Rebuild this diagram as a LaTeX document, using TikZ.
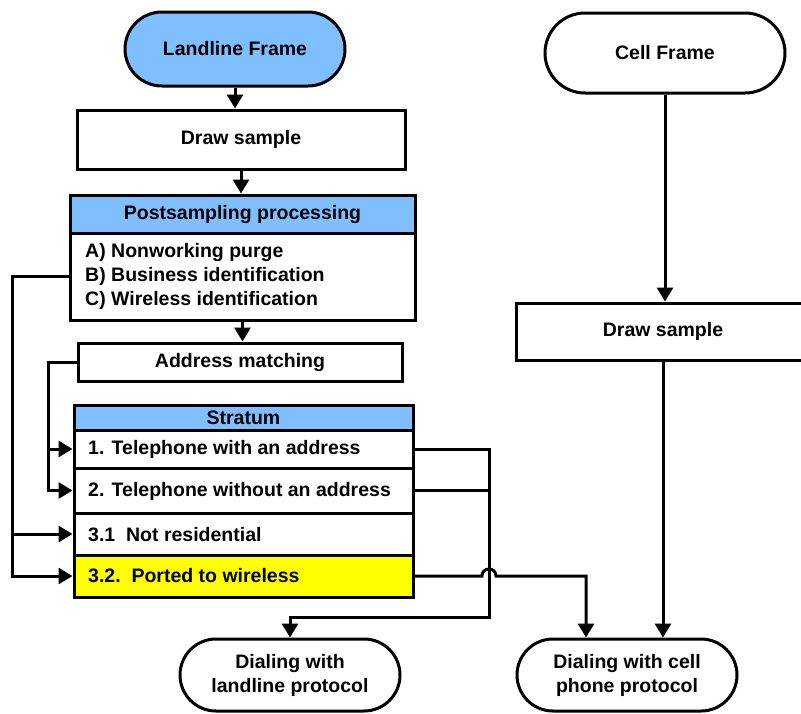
\documentclass[tikz,border=0pt]{standalone}
\usepackage{fontspec}
\setmainfont{Liberation Sans}
\usetikzlibrary{arrows.meta,shapes.misc}
\definecolor{lblue}{RGB}{128,191,255}
\definecolor{yel}{RGB}{255,255,0}
\begin{document}
\begin{tikzpicture}[x=1pt,y=-1pt,
  every node/.style={font=\fontsize{19.5}{24}\selectfont\bfseries, inner sep=0pt},
  box/.style={draw, line width=3pt, rectangle},
  term/.style={draw, line width=3pt, rounded rectangle, align=center},
  conn/.style={line width=3pt, -{Triangle[length=14pt,width=16pt]}},
  plain/.style={line width=3pt}]
\clip (0,0) rectangle (801,713);
\fill[white] (0,0) rectangle (801,713);
% left column
\node[term, fill=lblue, minimum width=220pt, minimum height=74pt] (lf) at (235,49) {Landline Frame};
\node[box, minimum width=328pt, minimum height=59pt] (ds1) at (241,139.5) {Draw sample};
\node[box, fill=lblue, minimum width=345pt, minimum height=38pt] (ph) at (242.5,214) {Postsampling processing};
\node[box, minimum width=345pt, minimum height=87pt] (pb) at (242.5,276.5) {};
\node[anchor=west, align=left] (pt) at (85,276) {A) Nonworking purge\\B) Business identification\\C) Wireless identification};
\node[box, minimum width=324pt, minimum height=38pt] (am) at (240,362) {Address matching};
\node[box, fill=lblue, minimum width=339pt, minimum height=25pt] (sh) at (243.5,417.5) {Stratum};
\node[box, minimum width=339pt, minimum height=38pt] (r1) at (243.5,449) {};
\node[box, minimum width=339pt, minimum height=45pt] (r2) at (243.5,490.5) {};
\node[box, minimum width=339pt, minimum height=42pt] (r3) at (243.5,534) {};
\node[box, fill=yel, minimum width=339pt, minimum height=42pt] (r4) at (243.5,576) {};
\node[anchor=west] (t1) at (88,449) {1. Telephone with an address};
\node[anchor=west] (t2) at (88,491) {2. Telephone without an address};
\node[anchor=west] (t3) at (88,535) {3.1\ \ Not residential};
\node[anchor=west] (t4) at (88,576) {3.2.\ \ Ported to wireless};
\node[term, minimum width=220pt, minimum height=72pt] (dl) at (290,675) {Dialing with\\landline protocol};
% right column
\node[term, minimum width=240pt, minimum height=80pt] (cf) at (665,53) {Cell Frame};
\node[box, minimum width=294pt, minimum height=57pt] (ds2) at (663,331.5) {Draw sample};
\node[term, minimum width=220pt, minimum height=72pt] (dc) at (627,675) {Dialing with cell\\phone protocol};
% helper coordinates
\coordinate (lx) at (12,0);
\coordinate (mx) at (48,0);
\coordinate (rx) at (489,0);
\coordinate (by) at (0,617);
\coordinate (cx) at (586,0);
\coordinate (h1) at (482,576);
\coordinate (h2) at (496,576);
% main flow
\draw[conn] (lf.south) -- (lf.south |- ds1.north);
\draw[conn] (ds1.south) -- (ds1.south |- ph.north);
\draw[conn] (pb.south) -- (pb.south |- am.north);
% left connectors
\draw[conn] (pb.west) -- (pb.west -| lx) |- (r4.west);
\draw[conn] (r3.west -| lx) -- (r3.west);
\draw[conn] (am.west) -- (am.west -| mx) |- (r2.west);
\draw[conn] (r1.west -| mx) -- (r1.west);
% right connectors
\draw[conn] (r1.east) -| (rx |- by) -| (dl.north);
\draw[plain] (r2.east) -- (r2.east -| rx);
\draw[conn] (r4.east) -- (h1) .. controls +(0,-9.3) and +(0,-9.3) .. (h2) -| (cx |- dc.north);
\draw[conn] (cf.south) -- (cf.south |- ds2.north);
\draw[conn] (ds2.south) -- (ds2.south |- dc.north);
\end{tikzpicture}
\end{document}
